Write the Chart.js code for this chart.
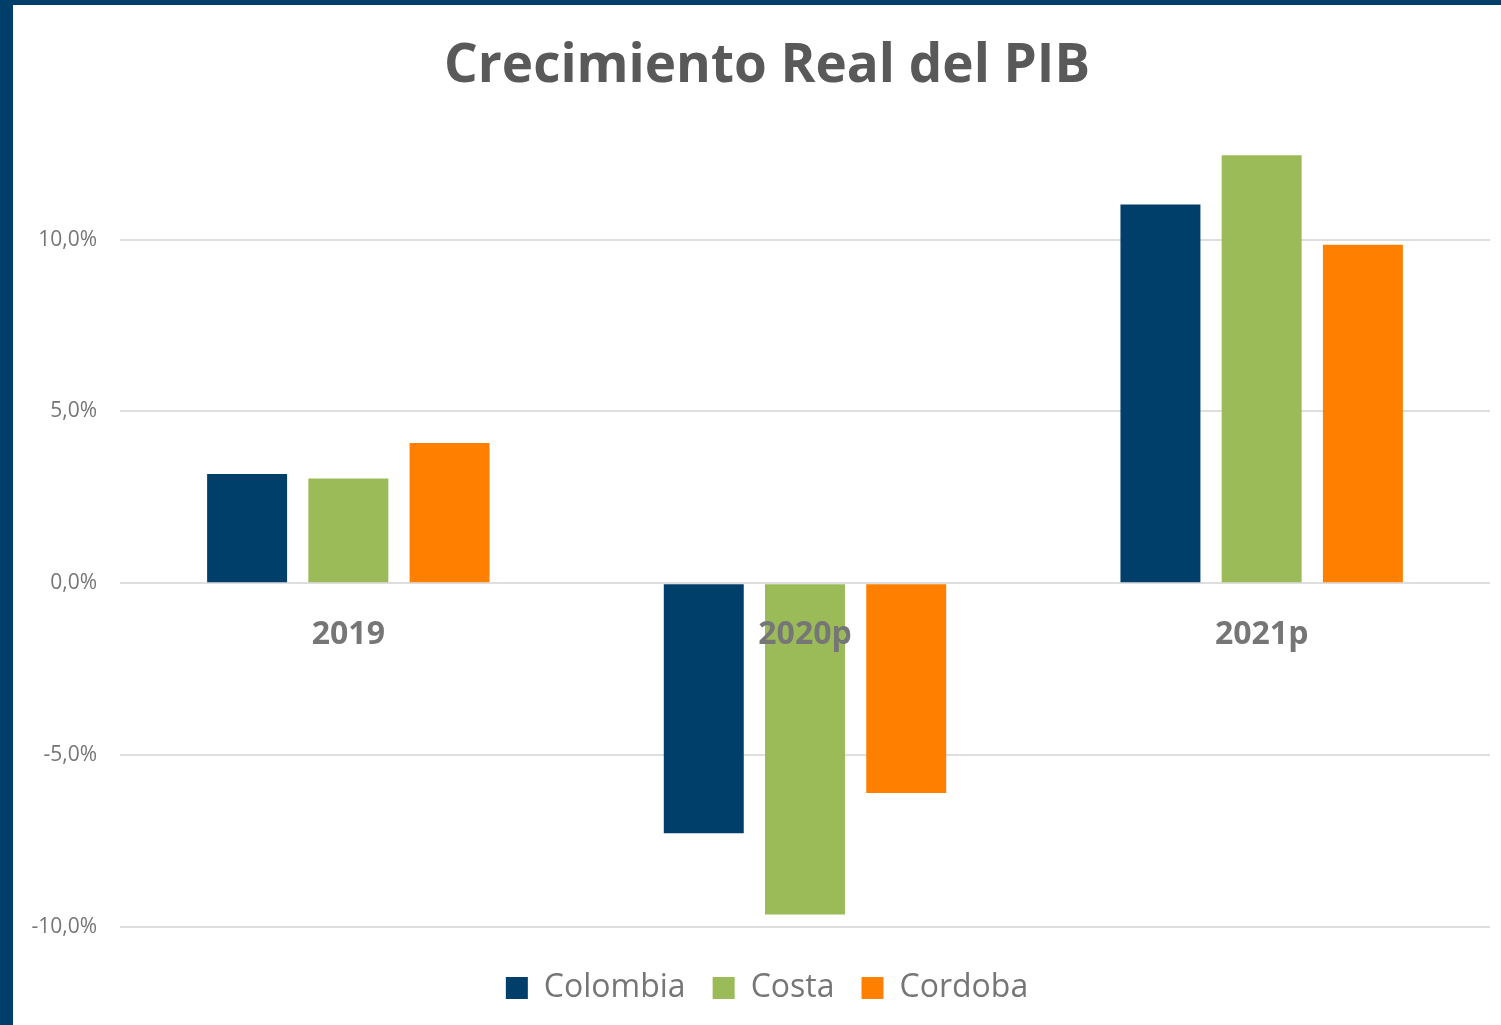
<!DOCTYPE html>
<html>
<head>
<meta charset="utf-8">
<script src="https://cdn.jsdelivr.net/npm/chart.js@4"></script>
<style>
  html, body { margin: 0; padding: 0; }
  body { width: 1501px; height: 1025px; background: #013f6b; position: relative; overflow: hidden; }
  #wrap { position: absolute; left: 13px; top: 5px; width: 1488px; height: 1020px; background: #fff; }
</style>
</head>
<body>
<div id="wrap"><canvas id="pibChart"></canvas></div>
<script>
const years = ["2019", "2020p", "2021p"];
const colombia = [3.18, -7.27, 11.02];
const costa = [3.05, -9.63, 12.45];
const cordoba = [4.08, -6.1, 9.85];
const yTicks = [-10, -5, 0, 5, 10];

const grayText = "#767676";
const font = "'Open Sans', 'Noto Sans', sans-serif";

// the y labels overhang the narrow axis box, so stop them being clipped
const unclipYLabels = {
  id: "unclipYLabels",
  afterLayout: function (chart) {
    chart.scales.y.left = 0;
  },
};

const ctx = document.getElementById("pibChart").getContext("2d");

new Chart(ctx, {
  type: "bar",
  data: {
    labels: years,
    datasets: [
      { label: "Colombia", data: colombia, backgroundColor: "#013f6b" },
      { label: "Costa", data: costa, backgroundColor: "#9bbb59" },
      { label: "Cordoba", data: cordoba, backgroundColor: "#ff8000" },
    ],
  },
  options: {
    responsive: true,
    maintainAspectRatio: false,
    animation: false,
    categoryPercentage: 0.665,
    barPercentage: 0.79,
    layout: {
      padding: { left: 31, right: 11, top: 0, bottom: 11 },
    },
    scales: {
      x: {
        position: { y: 0 },
        grid: { display: false, drawTicks: false, tickLength: 0 },
        border: { display: false },
        ticks: {
          z: 1,
          color: grayText,
          padding: 32,
          font: { family: font, size: 32, weight: "bold" },
        },
      },
      y: {
        min: -10.52,
        max: 12.5,
        afterBuildTicks: function (axis) {
          axis.ticks = yTicks.map((v) => ({ value: v }));
        },
        afterFit: function (axis) {
          axis.width = 76;
        },
        grid: { color: "#dedede", lineWidth: 2, drawTicks: false },
        border: { display: false },
        ticks: {
          color: grayText,
          padding: 23,
          font: { family: font, size: 21 },
          callback: function (value) {
            return value.toFixed(1).replace(".", ",") + "%";
          },
        },
      },
    },
    plugins: {
      title: {
        display: true,
        text: "Crecimiento Real del PIB",
        color: "#595959",
        font: { family: font, size: 53, weight: "bold" },
        padding: { top: 30, bottom: 55 },
      },
      legend: {
        position: "bottom",
        labels: {
          color: grayText,
          boxWidth: 22,
          boxHeight: 22,
          padding: 27,
          font: { family: font, size: 32 },
        },
      },
      tooltip: { enabled: false },
    },
  },
  plugins: [unclipYLabels],
});
</script>
</body>
</html>
